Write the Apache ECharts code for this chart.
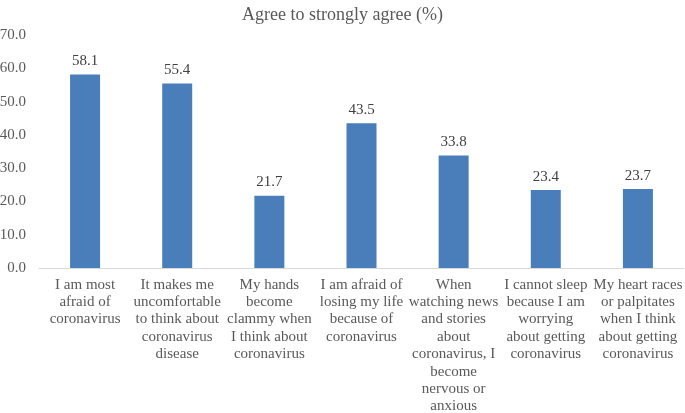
<!DOCTYPE html>
<html><head><meta charset="utf-8">
<script src="https://cdn.jsdelivr.net/npm/echarts@6/dist/echarts.min.js"></script>
<style>html,body{margin:0;padding:0;background:#fff}#c{width:685px;height:413px}</style>
</head><body><div id="c"></div>
<script>
const categories = [
  "I am most\nafraid of\ncoronavirus",
  "It makes me\nuncomfortable\nto think about\ncoronavirus\ndisease",
  "My hands\nbecome\nclammy when\nI think about\ncoronavirus",
  "I am afraid of\nlosing my life\nbecause of\ncoronavirus",
  "When\nwatching news\nand stories\nabout\ncoronavirus, I\nbecome\nnervous or\nanxious",
  "I cannot sleep\nbecause I am\nworrying\nabout getting\ncoronavirus",
  "My heart races\nor palpitates\nwhen I think\nabout getting\ncoronavirus"
];
const values = [58.1, 55.4, 21.7, 43.5, 33.8, 23.4, 23.7];
const title = "Agree to strongly agree (%)";
const font = '"Liberation Serif", "Times New Roman", serif';
const chart = echarts.init(document.getElementById('c'));
chart.setOption({
  animation: false,
  title: { text: title, left: 'center', top: 1, textStyle: { fontFamily: font, fontSize: 18, fontWeight: 'normal', color: '#595959' } },
  grid: { left: 39, right: 1, top: 35, bottom: 145, containLabel: false, outerBoundsMode: 'none' },
  xAxis: {
    type: 'category', data: categories,
    axisLine: { lineStyle: { color: '#d9d9d9' } },
    axisTick: { show: false },
    axisLabel: { interval: 0, color: '#595959', fontFamily: font, fontSize: 15, lineHeight: 17.4, margin: 8 }
  },
  yAxis: {
    type: 'value', min: 0, max: 70, interval: 10,
    splitLine: { show: false },
    axisLine: { show: false }, axisTick: { show: false },
    axisLabel: { color: '#595959', fontFamily: font, fontSize: 15, margin: 13, formatter: v => v.toFixed(1) }
  },
  series: [{
    type: 'bar', data: values, barWidth: 30,
    itemStyle: { color: '#4a7ebb' },
    label: { show: true, position: 'top', distance: 6, color: '#404040', fontFamily: font, fontSize: 15, formatter: p => p.value.toFixed(1) }
  }]
});
</script></body></html>
